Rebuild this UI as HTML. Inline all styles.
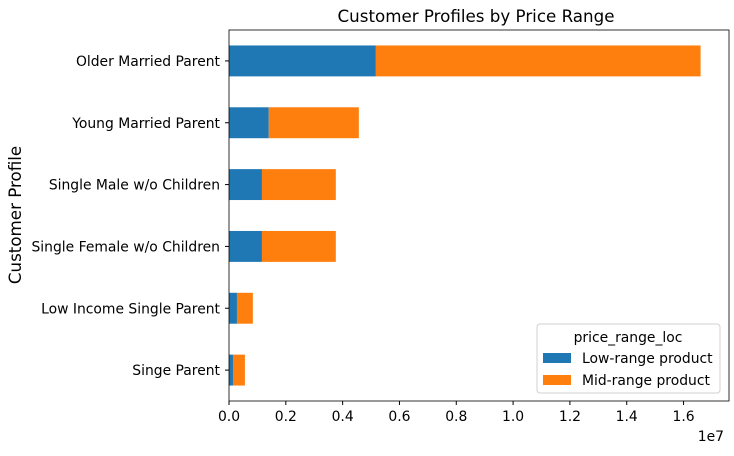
<!DOCTYPE html>
<html><head><meta charset="utf-8"><style>
body{margin:0;background:#fff;font-family:"Liberation Sans","DejaVu Sans",sans-serif;}
svg text{font-family:"DejaVu Sans","Liberation Sans",sans-serif;}
</style></head><body>
<svg id="chart" width="734" height="451" viewBox="0 0 734 451" xmlns="http://www.w3.org/2000/svg">
<text x="476" y="22" font-size="16.7" text-anchor="middle">Customer Profiles by Price Range</text>
<text transform="translate(21,215) rotate(-90)" font-size="16.7" text-anchor="middle">Customer Profile</text>
<g id="plot"></g>
<text x="724" y="441" font-size="13.9" text-anchor="end">1e7</text>
<g>
<rect x="537" y="324" width="183" height="69" rx="3" fill="#fff" stroke="#ccc" opacity="0.9"/>
<text x="628" y="342" font-size="13.9" text-anchor="middle">price_range_loc</text>
<rect x="543" y="353" width="28" height="10" fill="#1f77b4"/>
<text x="582" y="363" font-size="13.9">Low-range product</text>
<rect x="543" y="375" width="28" height="10" fill="#ff7f0e"/>
<text x="582" y="385" font-size="13.9">Mid-range product</text>
</g>
</svg>
<script>
const categories=["Older Married Parent","Young Married Parent","Single Male w/o Children","Single Female w/o Children","Low Income Single Parent","Singe Parent"];
const lowRange=[5.17e6,1.40e6,1.16e6,1.16e6,0.28e6,0.14e6];
const midRange=[11.43e6,3.17e6,2.60e6,2.60e6,0.56e6,0.42e6];
const xTicks=[0,0.2,0.4,0.6,0.8,1.0,1.2,1.4,1.6];
const L=229,R=729,T=30,B=401,xMax=1.76e7;
const ns="http://www.w3.org/2000/svg";
const g=document.getElementById('plot');
const x=v=>L+(v/xMax)*(R-L);
const step=(B-T)/categories.length;
const yc=i=>T+step*(i+0.5);
function mk(tag,a){const e=document.createElementNS(ns,tag);for(const k in a)e.setAttribute(k,a[k]);g.appendChild(e);return e;}
categories.forEach((c,i)=>{
  const h=step*0.5,y=yc(i)-h/2;
  const b1=mk('rect',{x:x(0),y:y,width:x(lowRange[i])-x(0),height:h,fill:'#1f77b4'});
  
  
  const b2=mk('rect',{x:x(lowRange[i]),y:y,width:x(lowRange[i]+midRange[i])-x(lowRange[i]),height:h,fill:'#ff7f0e'});
  
  
  const tk=mk('line',{x1:L-4,x2:L,y1:yc(i),y2:yc(i),stroke:'#000'});
  
  
  const t=mk('text',{x:L-9,y:yc(i)+5,'font-size':13.9,'text-anchor':'end'});
  t.textContent=c;
  
  
});
xTicks.forEach(v=>{
  const px=x(v*1e7);
  const tk=mk('line',{x1:px,x2:px,y1:B,y2:B+4,stroke:'#000'});
  
  
  const t=mk('text',{x:px,y:B+20,'font-size':13.9,'text-anchor':'middle'});
  t.textContent=v.toFixed(1);
  
  
});
const fr=mk('rect',{x:L,y:T,width:R-L,height:B-T,fill:'none',stroke:'#000','stroke-width':0.8});


</script>
</body></html>
